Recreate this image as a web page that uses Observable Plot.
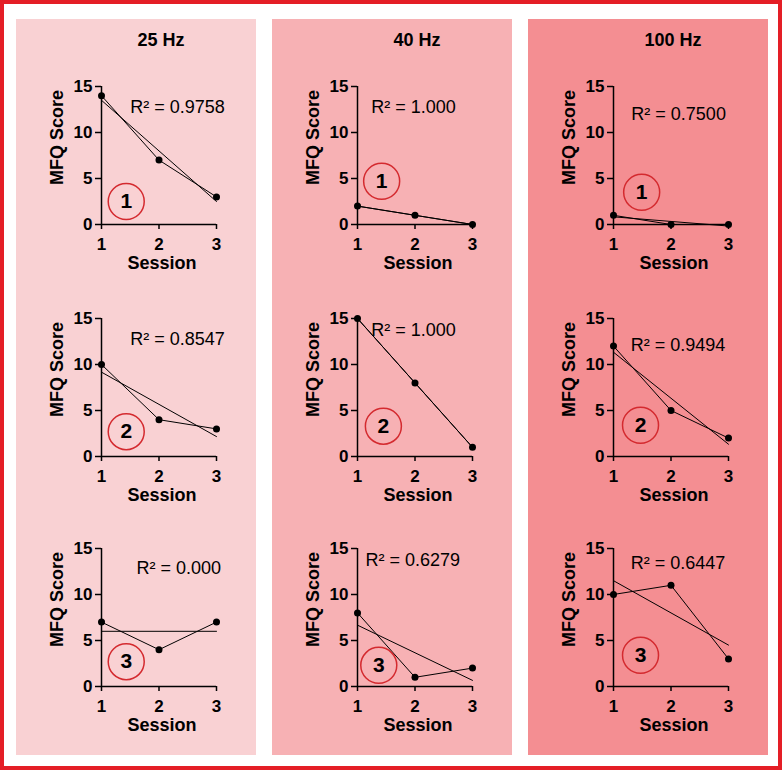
<!DOCTYPE html>
<html><head><meta charset="utf-8">
<script src="https://cdn.jsdelivr.net/npm/d3@7"></script>
<script src="https://cdn.jsdelivr.net/npm/@observablehq/plot@0.6"></script>
<style>
body{margin:0;background:#fff;font-family:"Liberation Sans",Arial,sans-serif;}
#frame{position:absolute;left:0;top:0;width:782px;height:770px;box-sizing:border-box;border:4px solid #e41e26;}
.col{position:absolute;top:19px;height:736px;width:240px;}
.title{position:absolute;top:30px;width:240px;line-height:20px;font-weight:bold;font-size:18px;text-align:center;color:#000;}
.panel{position:absolute;}
.panel svg{overflow:visible;}
</style></head><body>
<div id="frame"></div>
<div id="root"></div>
<script>
// ---- data ----
const frequencies = ["25 Hz", "40 Hz", "100 Hz"];
const participants = [1, 2, 3];
const sessions = [1, 2, 3];
const scores25Hz = [[14, 7, 3], [10, 4, 3], [7, 4, 7]];
const scores40Hz = [[2, 1, 0], [15, 8, 1], [8, 1, 2]];
const scores100Hz = [[1, 0, 0], [12, 5, 2], [10, 11, 3]];
const r2Labels25Hz = ["0.9758", "0.8547", "0.000"];
const r2Labels40Hz = ["1.000", "1.000", "0.6279"];
const r2Labels100Hz = ["0.7500", "0.9494", "0.6447"];
const yTicks = [0, 5, 10, 15];

// ---- annotation placement (data units) ----
const r2Pos = [
  [[1.50, 12.7], [1.50, 12.8], [1.61, 12.9]],
  [[1.24, 12.7], [1.24, 13.7], [1.14, 13.7]],
  [[1.31, 12.0], [1.30, 12.1], [1.30, 13.4]]
];
const circlePos = [
  [[1.43, 2.5], [1.43, 2.7], [1.43, 2.7]],
  [[1.42, 4.7], [1.45, 3.3], [1.37, 2.3]],
  [[1.49, 3.5], [1.47, 3.4], [1.47, 3.4]]
];

const allScores = [scores25Hz, scores40Hz, scores100Hz];
const allR2 = [r2Labels25Hz, r2Labels40Hz, r2Labels100Hz];
const colColors = ["#f9d1d3", "#f7b1b4", "#f48e92"];
const colLeft = [16, 272, 528];
const rowTop = [86, 318, 548];
const font = "'Liberation Sans', Arial, sans-serif";

const root = document.getElementById("root");
frequencies.forEach((f, c) => {
  const col = document.createElement("div");
  col.className = "col";
  col.style.left = colLeft[c] + "px";
  col.style.background = colColors[c];
  root.appendChild(col);
  const t = document.createElement("div");
  t.className = "title";
  t.style.left = (colLeft[c] + 25) + "px";
  t.textContent = f;
  root.appendChild(t);

  participants.forEach((p, r) => {
    const rows = sessions.map((s, k) => ({session: s, score: allScores[c][r][k]}));
    const mt = 20, ph = 138, mb = 52;
    const chart = Plot.plot({
      width: 240, height: mt + ph + mb,
      marginLeft: 85, marginRight: 40, marginTop: mt, marginBottom: mb,
      x: {domain: [1, 3]},
      y: {domain: [0, 15]},
      style: {background: "transparent", fontFamily: font, fontSize: "17px", color: "#000", overflow: "visible"},
      marks: [
        Plot.axisY({ticks: yTicks, tickSize: 6, tickFormat: () => "", label: null, strokeWidth: 1.5}),
        Plot.axisX({ticks: sessions, tickSize: 5, tickFormat: () => "", label: null, strokeWidth: 1.5}),
        Plot.text(yTicks, {x: 1, y: d => d, text: d => String(d), dx: -9, textAnchor: "end", lineAnchor: "middle", fontSize: 17, fontWeight: "bold"}),
        Plot.text(sessions, {x: d => d, y: 0, text: d => String(d), dy: 20, textAnchor: "middle", lineAnchor: "middle", fontSize: 17, fontWeight: "bold"}),
        Plot.ruleX([1], {y1: 0, y2: 15, stroke: "#000", strokeWidth: 1.5}),
        Plot.ruleY([0], {x1: 1, x2: 3, stroke: "#000", strokeWidth: 1.5}),
        Plot.linearRegressionY(rows, {x: "session", y: "score", ci: 0, stroke: "#000", strokeWidth: 1}),
        Plot.line(rows, {x: "session", y: "score", stroke: "#000", strokeWidth: 1}),
        Plot.dot(rows, {x: "session", y: "score", r: 3.5, fill: "#000"}),
        Plot.text([allR2[c][r]], {x: r2Pos[c][r][0], y: r2Pos[c][r][1], text: d => "R² = " + d, textAnchor: "start", lineAnchor: "middle", fontSize: 18}),
        Plot.dot([p], {x: circlePos[c][r][0], y: circlePos[c][r][1], r: 18, stroke: "#d42a2f", strokeWidth: 1.5, fill: "none"}),
        Plot.text([p], {x: circlePos[c][r][0], y: circlePos[c][r][1], text: d => String(d), fontSize: 21, fontWeight: "bold"}),
        Plot.text(["MFQ Score"], {frameAnchor: "left", text: d => d, rotate: -90, textAnchor: "middle", lineAnchor: "middle", dx: -44, dy: -18, fontWeight: "bold", fontSize: 18}),
        Plot.text(["Session"], {frameAnchor: "bottom", text: d => d, textAnchor: "middle", lineAnchor: "middle", dx: 3, dy: 38.5, fontWeight: "bold", fontSize: 18})
      ]
    });
    const holder = document.createElement("div");
    holder.className = "panel";
    holder.style.left = colLeft[c] + "px";
    holder.style.top = (rowTop[r] - mt) + "px";
    holder.appendChild(chart);
    root.appendChild(holder);
  });
});
</script>
</body></html>
